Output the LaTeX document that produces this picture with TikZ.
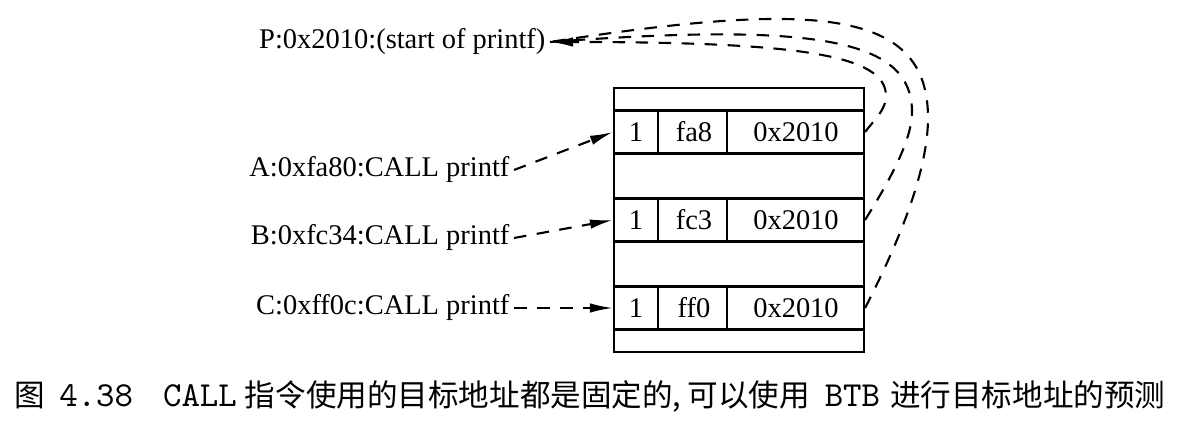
\documentclass[tikz,border=0pt]{standalone}
\usepackage{fontspec}
\setmainfont{Liberation Serif}
\newfontfamily\cjk{Noto Sans CJK SC}
\newcommand\captt{\fontsize{10}{10}\selectfont\ttfamily}
\usetikzlibrary{arrows.meta}
\tikzset{
  lbl/.style={anchor=east, inner sep=1pt, font=\fontsize{8.1}{10}\selectfont},
  cell/.style={inner sep=0pt, font=\fontsize{8.1}{10}\selectfont},
  rowbox/.style={draw, minimum width=25mm, minimum height=4.3mm, inner sep=0pt},
  link/.style={dash pattern=on 1.25mm off 1.05mm, line width=0.6pt},
  tip/.style={-{Latex[length=2.3mm,width=0.95mm]}},
}
\begin{document}
\begin{tikzpicture}[x=0.1mm, y=-0.1mm, line width=0.6pt]
  \useasboundingbox (0,0) rectangle (1180,428);
  % btb
  \node[draw, minimum width=25mm, minimum height=26.4mm, inner sep=0pt] (btb) at (739,220) {};
  \foreach \r/\y/\tag in {a/132/fa8, b/220/fc3, c/308/ff0} {
    \node[rowbox] (row\r) at (739,\y) {};
    \draw ([xshift=4.5mm]row\r.north west) -- ([xshift=4.5mm]row\r.south west);
    \draw ([xshift=11.4mm]row\r.north west) -- ([xshift=11.4mm]row\r.south west);
    \node[cell] (one\r) at (636,\y) {1};
    \node[cell] (tag\r) at (694,\y) {\tag};
    \node[cell] (tgt\r) at (796,\y) {0x2010};
  }
  % instructions
  \node[lbl] (P) at (550,42) {P:0x2010:(start of printf)};
  \node[lbl] (A) at (514,170) {A:0xfa80:CALL printf};
  \node[lbl] (B) at (514,238) {B:0xfc34:CALL printf};
  \node[lbl] (C) at (514,308) {C:0xff0c:CALL printf};
  % lookups
  \draw[link, tip] (A.east) -- (rowa.west);
  \draw[link, tip] (B.east) -- (rowb.west);
  \draw[link, tip] (C.east) -- (rowc.west);
  % targets
  \draw[link] (rowc.east) .. controls (900,240) and (928,170) .. (928,118)
    .. controls (928,10) and (820,0) .. (P.east);
  \draw[link] (rowb.east) .. controls (890,180) and (912,140) .. (912,112)
    .. controls (912,40) and (820,22) .. (P.east);
  \draw[link, tip] (rowa.east) .. controls (874,120) and (886,110) .. (886,96)
    .. controls (886,55) and (800,42) .. (P.east);
  % caption
  \node[inner sep=0pt, font=\fontsize{8.7}{10}\selectfont] (cap) at (590,396)
    {{\cjk 图}\hspace{1.4mm}{\captt 4.38}\hspace{3mm}{\captt CALL}\hspace{0.8mm}{\cjk 指令使用的目标地址都是固定的,\hspace{0.6mm}可以使用}\hspace{1.5mm}{\captt BTB}\hspace{1mm}{\cjk 进行目标地址的预测}};
\end{tikzpicture}
\end{document}
